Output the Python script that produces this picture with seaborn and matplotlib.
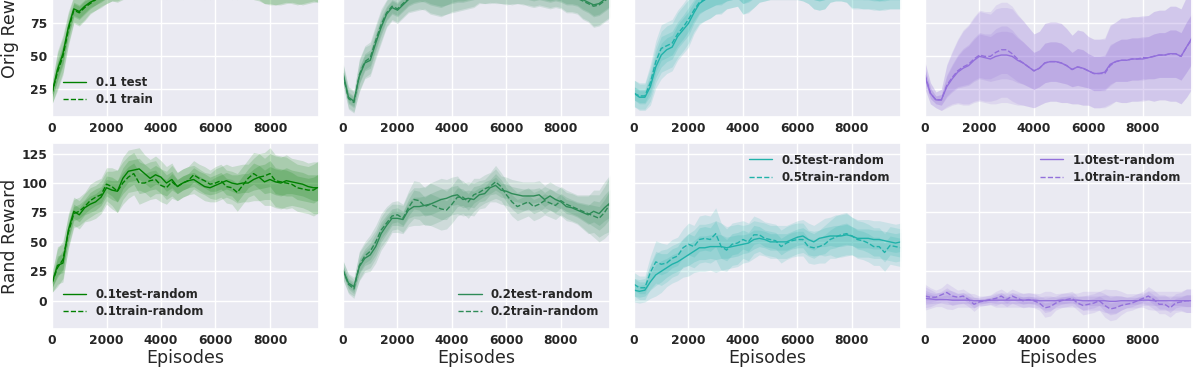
import matplotlib
matplotlib.use('Agg')
import matplotlib.pyplot as plt
import numpy as np
import seaborn as sns

# ── Data (one point every 200 episodes) ──────────────────────────────────────
episodes = list(range(0, 10000, 200))
noise_levels = ['0.1', '0.2', '0.5', '1.0']
panel_colors = ['green', 'seagreen', 'lightseagreen', 'mediumpurple']

# top row: original reward
orig_test_01 = [22, 40, 52, 72, 86, 84, 88, 91, 93, 96, 98, 100, 101, 103, 104, 104, 105, 104, 104, 105,
                104, 103, 104, 105, 104, 104, 105, 104, 103, 104, 105, 104, 104, 103, 104, 105, 104, 104, 103, 102,
                101, 101, 102, 103, 102, 101, 102, 103, 104, 103]
orig_train_01 = [22, 38, 50, 70, 85, 83, 87, 90, 93, 95, 98, 100, 102, 104, 104, 103, 104, 105, 105, 104,
                 103, 104, 105, 104, 103, 104, 104, 105, 104, 103, 104, 104, 105, 104, 103, 104, 105, 103, 102, 102,
                 102, 101, 101, 102, 103, 102, 101, 102, 103, 103]
orig_std_01 = [4, 7, 7, 6, 5, 5, 5, 4, 4, 4, 4, 4, 5, 5, 5, 5, 5, 5, 5, 5,
               5, 5, 5, 5, 5, 5, 5, 5, 5, 5, 5, 5, 5, 5, 5, 5, 5, 5, 5, 6,
               6, 6, 6, 6, 6, 6, 6, 6, 6, 6]

orig_test_02 = [37, 19, 16, 35, 45, 47, 60, 72, 82, 87, 85, 89, 93, 96, 97, 98, 97, 96, 95, 96,
                97, 98, 97, 98, 99, 100, 100, 101, 100, 100, 99, 100, 100, 99, 99, 98, 99, 98, 97, 98,
                97, 96, 96, 95, 93, 91, 89, 90, 93, 96]
orig_train_02 = [36, 18, 15, 36, 46, 49, 62, 74, 83, 88, 86, 90, 94, 97, 98, 97, 96, 95, 94, 96,
                 98, 99, 98, 99, 100, 101, 100, 100, 101, 100, 100, 99, 100, 100, 98, 97, 98, 97, 96, 97,
                 96, 95, 95, 94, 92, 90, 88, 89, 92, 95]
orig_std_02 = [4, 4, 4, 6, 6, 6, 6, 6, 5, 5, 5, 5, 5, 6, 6, 6, 7, 7, 7, 7,
               7, 7, 6, 6, 6, 5, 5, 5, 5, 5, 5, 5, 5, 5, 5, 5, 5, 5, 5, 5,
               5, 6, 6, 6, 7, 7, 8, 8, 8, 8]

orig_test_05 = [22, 19, 19, 27, 42, 51, 55, 57, 65, 70, 75, 83, 90, 93, 95, 96, 97, 98, 99, 100,
                98, 99, 101, 103, 104, 105, 105, 105, 105, 105, 105, 104, 102, 100, 99, 100, 103, 104, 104, 103,
                101, 101, 100, 100, 100, 99, 99, 100, 100, 100]
orig_train_05 = [22, 20, 20, 30, 46, 56, 58, 60, 67, 72, 78, 85, 91, 93, 95, 96, 96, 98, 99, 100,
                 98, 100, 101, 103, 104, 105, 105, 105, 105, 105, 105, 104, 102, 100, 99, 100, 103, 104, 104, 103,
                 100, 100, 100, 100, 99, 99, 100, 100, 100, 100]
orig_std_05 = [5, 5, 5, 7, 8, 9, 9, 9, 9, 9, 9, 8, 8, 8, 8, 7, 7, 6, 6, 6,
               8, 8, 7, 6, 6, 6, 6, 6, 6, 6, 6, 6, 6, 7, 7, 7, 6, 6, 6, 6,
               7, 7, 7, 7, 7, 7, 7, 7, 7, 7]

orig_test_10 = [35, 22, 17, 17, 27, 33, 38, 41, 43, 47, 50, 49, 48, 50, 51, 51, 50, 47, 45, 42,
                39, 41, 45, 46, 46, 45, 43, 40, 42, 41, 39, 37, 37, 38, 44, 46, 47, 47, 48, 48,
                48, 49, 50, 51, 51, 52, 52, 50, 57, 64]
orig_train_10 = [36, 22, 17, 17, 28, 34, 39, 42, 44, 48, 51, 50, 50, 53, 55, 55, 52, 48, 45, 42,
                 39, 41, 45, 46, 46, 45, 43, 40, 42, 41, 39, 37, 37, 37, 43, 46, 47, 47, 48, 48,
                 49, 49, 50, 51, 51, 52, 52, 50, 57, 63]
orig_std_10 = [5, 4, 3, 4, 8, 10, 12, 14, 15, 16, 17, 17, 17, 18, 18, 18, 18, 17, 16, 15,
               14, 14, 15, 15, 15, 15, 14, 13, 14, 14, 13, 13, 13, 13, 15, 15, 16, 16, 16, 16,
               16, 16, 17, 17, 17, 18, 18, 18, 19, 19]

# bottom row: randomised reward
rand_test_01 = [15, 30, 32, 60, 76, 73, 79, 82, 84, 88, 96, 94, 93, 104, 110, 111, 112, 108, 104, 107,
                105, 100, 103, 97, 100, 102, 103, 100, 97, 96, 98, 100, 102, 100, 99, 100, 100, 103, 105, 101,
                103, 101, 100, 102, 101, 100, 99, 97, 96, 96]
rand_train_01 = [15, 28, 35, 58, 74, 76, 80, 85, 88, 90, 99, 97, 93, 100, 105, 108, 100, 100, 102, 103,
                 98, 96, 101, 97, 100, 102, 107, 104, 102, 99, 100, 102, 97, 96, 92, 98, 104, 108, 105, 106,
                 108, 102, 101, 100, 99, 96, 95, 94, 94, 97]
rand_std_01 = [4, 8, 8, 7, 6, 6, 6, 7, 7, 7, 7, 8, 9, 9, 9, 9, 9, 8, 8, 8,
               7, 7, 7, 6, 6, 6, 6, 6, 6, 6, 7, 7, 7, 7, 8, 8, 8, 9, 10, 10,
               11, 11, 11, 11, 10, 10, 10, 10, 11, 11]

rand_test_02 = [26, 15, 12, 29, 36, 39, 46, 57, 64, 70, 70, 69, 77, 80, 80, 81, 82, 84, 86, 87,
                89, 90, 86, 87, 86, 90, 91, 96, 98, 94, 93, 91, 90, 89, 89, 89, 90, 86, 89, 86,
                84, 80, 79, 77, 75, 73, 76, 74, 79, 83]
rand_train_02 = [26, 14, 10, 30, 38, 42, 50, 60, 66, 72, 73, 70, 79, 86, 85, 80, 82, 80, 78, 77,
                 82, 88, 88, 84, 90, 92, 95, 97, 101, 97, 90, 84, 80, 82, 84, 80, 82, 85, 83, 81,
                 85, 82, 80, 78, 76, 74, 72, 70, 75, 82]
rand_std_02 = [4, 4, 4, 6, 6, 7, 7, 7, 7, 6, 6, 6, 7, 8, 8, 8, 9, 9, 9, 8,
               8, 8, 7, 7, 7, 6, 6, 6, 7, 6, 6, 6, 6, 6, 6, 6, 6, 6, 6, 6,
               6, 6, 6, 6, 7, 8, 9, 10, 11, 12]

rand_test_05 = [9, 8, 9, 16, 22, 25, 28, 31, 33, 36, 39, 42, 45, 45, 46, 46, 46, 45, 46, 47,
                48, 49, 52, 53, 52, 50, 50, 50, 50, 52, 54, 55, 52, 50, 53, 54, 55, 55, 55, 56,
                55, 53, 53, 53, 52, 52, 51, 50, 49, 50]
rand_train_05 = [14, 11, 11, 24, 33, 31, 32, 36, 38, 45, 48, 46, 52, 53, 52, 57, 46, 43, 48, 49,
                 52, 50, 56, 56, 53, 52, 51, 46, 49, 51, 52, 52, 46, 45, 46, 48, 52, 54, 56, 57,
                 55, 52, 51, 49, 46, 46, 41, 47, 46, 45]
rand_std_05 = [5, 5, 5, 7, 9, 9, 8, 8, 8, 8, 9, 9, 10, 10, 10, 11, 10, 9, 9, 9,
               8, 8, 8, 7, 7, 7, 7, 7, 7, 7, 7, 7, 7, 7, 7, 8, 8, 9, 9, 9,
               8, 8, 8, 8, 8, 8, 8, 8, 8, 8]

rand_test_10 = [2, 1.5, 1, 1, 1, 0.5, 0.5, 0.5, 0.5, 0, 0, 0, 0.5, 0.5, 0.5, 0.5, 0.5, 0.5, 0.5, 0.5,
                0.5, 0, 0, 0, 0, 0.5, 0.5, 0.5, 0.5, 0, 0, 0, 0, 0, -0.5, -0.5, 0, 0, 0, 0,
                0.5, 0.5, 0, 0, 0, 0, 0, 0, 0, 0]
rand_train_10 = [4, 3, 3, 5, 7, 4, 3, 4, 1, -3, -1, 0, 1, 2, 4, 1, 4, 2, 0, 1,
                 0, -2, -6, -5, -2, 0, 1, 2, -2, -4, -3, -2, 0, -4, -7, -6, -4, -3, -2, 0,
                 2, 4, 1, -3, -3, -6, -2, -1, 0, 0]
rand_std_10 = [5, 4, 3, 3, 4, 4, 3, 3, 3, 3, 2, 2, 2, 3, 3, 3, 3, 3, 3, 3,
               3, 3, 4, 4, 3, 3, 3, 3, 3, 4, 4, 4, 4, 5, 5, 5, 4, 3, 3, 3,
               3, 4, 4, 4, 4, 4, 4, 4, 5, 5]

orig_rows = [(orig_test_01, orig_train_01, orig_std_01), (orig_test_02, orig_train_02, orig_std_02),
             (orig_test_05, orig_train_05, orig_std_05), (orig_test_10, orig_train_10, orig_std_10)]
rand_rows = [(rand_test_01, rand_train_01, rand_std_01), (rand_test_02, rand_train_02, rand_std_02),
             (rand_test_05, rand_train_05, rand_std_05), (rand_test_10, rand_train_10, rand_std_10)]

rand_legend_loc = ['lower left', 'lower right', 'upper right', 'upper right']

# ── Style ────────────────────────────────────────────────────────────────────
sns.set_theme(style='darkgrid')
plt.rcParams['font.family'] = ['DejaVu Sans']

fig = plt.figure(figsize=(11.96, 3.68), dpi=100)
lefts = [0.0435, 0.2868, 0.5301, 0.7734]
width = 0.2232
height = 0.5054
x = np.array(episodes)
legend_font = {'weight': 'bold', 'size': 8.5}


def draw_panel(ax, test, train, std, color, test_label, train_label):
    test = np.array(test, dtype=float)
    train = np.array(train, dtype=float)
    std = np.array(std, dtype=float)
    for mean in (test, train):
        ax.fill_between(x, mean - 2 * std, mean + 2 * std, color=color, alpha=0.15, linewidth=0)
        ax.fill_between(x, mean - std, mean + std, color=color, alpha=0.17, linewidth=0)
    sns.lineplot(x=x, y=test, ax=ax, color=color, linewidth=1.0, label=test_label)
    sns.lineplot(x=x, y=train, ax=ax, color=color, linewidth=1.0, linestyle='--', label=train_label)
    ax.set_xlim(0, 9800)
    ax.set_xticks([0, 2000, 4000, 6000, 8000])


for i in range(4):
    # top row (most of it falls above the cropped figure)
    ax_top = fig.add_axes([lefts[i], 0.682, width, height])
    t, tr, s = orig_rows[i]
    draw_panel(ax_top, t, tr, s, panel_colors[i], noise_levels[i] + ' test', noise_levels[i] + ' train')
    ax_top.set_ylim(4, 145)
    ax_top.set_yticks([25, 50, 75, 100, 125])
    loc_top = 'lower left' if i == 0 else 'upper right'
    ax_top.legend(loc=loc_top, frameon=False, prop=legend_font, labelspacing=0.35)

    ax_bot = fig.add_axes([lefts[i], 0.106, width, height])
    t, tr, s = rand_rows[i]
    draw_panel(ax_bot, t, tr, s, panel_colors[i],
               noise_levels[i] + 'test-random', noise_levels[i] + 'train-random')
    ax_bot.set_ylim(-24, 134)
    ax_bot.set_yticks([0, 25, 50, 75, 100, 125])
    ax_bot.legend(loc=rand_legend_loc[i], frameon=False, prop=legend_font, labelspacing=0.35)
    ax_bot.set_xlabel('Episodes', fontsize=12.5, labelpad=1.5)

    for ax in (ax_top, ax_bot):
        ax.tick_params(axis='both', which='major', length=0, pad=3.5)
        for lab in ax.get_xticklabels() + ax.get_yticklabels():
            lab.set_fontweight('bold')
            lab.set_fontsize(8.8)

    if i == 0:
        ax_top.set_ylabel('Orig Reward', fontsize=12.5, labelpad=2)
        ax_bot.set_ylabel('Rand Reward', fontsize=12.5, labelpad=2)
    else:
        ax_top.set_yticklabels([])
        ax_bot.set_yticklabels([])
        ax_top.set_ylabel('')
        ax_bot.set_ylabel('')

plt.savefig('out.png', dpi=100)
plt.close(fig)
